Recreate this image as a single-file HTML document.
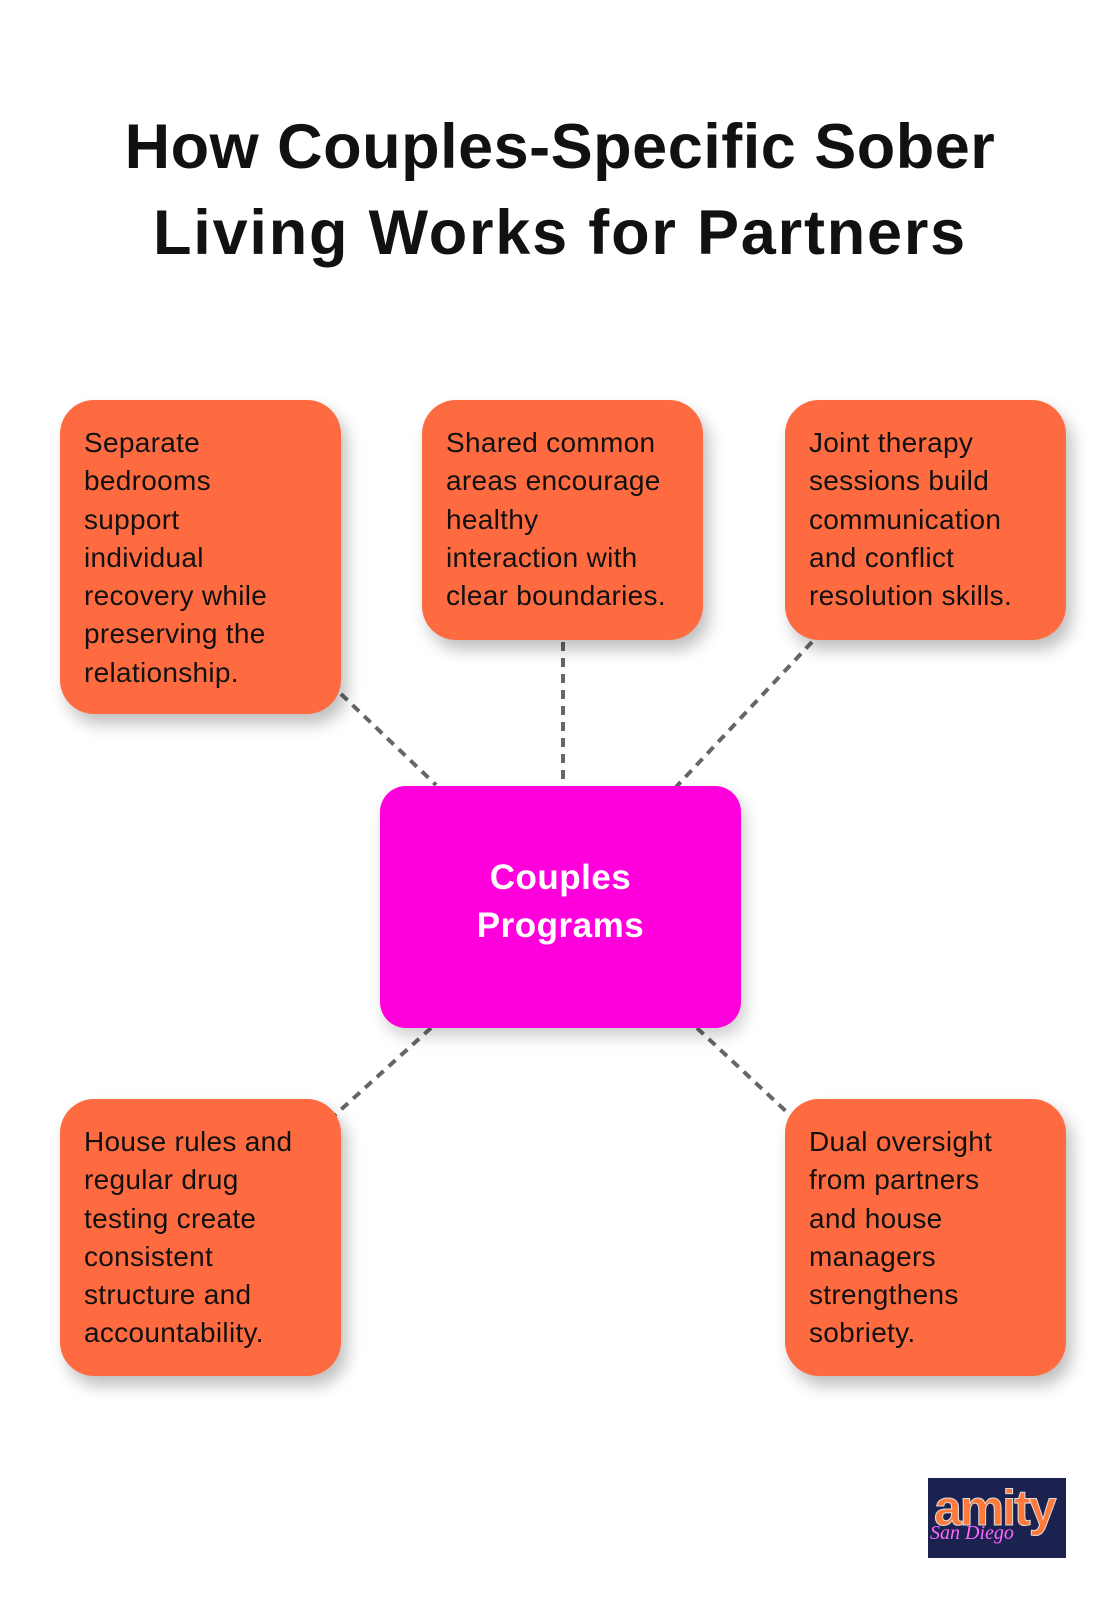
<!DOCTYPE html>
<html><head><meta charset="utf-8"><style>
body{margin:0;width:1120px;height:1608px;background:#fff;position:relative;overflow:hidden;font-family:"Liberation Sans","DejaVu Sans",sans-serif;}
.t{position:absolute;left:0;width:1120px;text-align:center;font-weight:bold;font-size:63px;line-height:86px;top:104px;color:#111;letter-spacing:0.5px}
.b{position:absolute;background:#FF6B40;border-radius:34px;box-shadow:6px 10px 16px rgba(0,0,0,0.25);box-sizing:border-box;padding:24px 0 0 24px;font-size:28px;line-height:38.3px;color:#111;letter-spacing:0.3px}
.c{position:absolute;left:380px;top:786px;width:361px;height:242px;background:#FF00DD;border-radius:26px;box-shadow:4px 8px 16px rgba(0,0,0,0.2);color:#fff;font-weight:bold;font-size:35px;line-height:48px;text-align:center;box-sizing:border-box;padding-top:68px;letter-spacing:0.5px}
svg{position:absolute;left:0;top:0}
</style></head><body>
<div class="t">How Couples-Specific Sober<br><span style="letter-spacing:1.8px">Living Works for Partners</span></div>
<svg width="1120" height="1608"><g stroke="#666" stroke-width="4" stroke-dasharray="9,7" fill="none">
<line x1="341" y1="694" x2="436" y2="785"/>
<line x1="563" y1="642" x2="563" y2="780"/>
<line x1="812" y1="642" x2="676" y2="787"/>
<line x1="431" y1="1028" x2="335" y2="1115"/>
<line x1="697" y1="1028" x2="790" y2="1115"/>
</g></svg>
<div class="b" style="left:60px;top:400px;width:281px;height:314px">Separate<br>bedrooms<br>support<br>individual<br>recovery while<br>preserving the<br>relationship.</div>
<div class="b" style="left:422px;top:400px;width:281px;height:240px">Shared common<br>areas encourage<br>healthy<br>interaction with<br>clear boundaries.</div>
<div class="b" style="left:785px;top:400px;width:281px;height:240px">Joint therapy<br>sessions build<br>communication<br>and conflict<br>resolution skills.</div>
<div class="c">Couples<br>Programs</div>
<div class="b" style="left:60px;top:1099px;width:281px;height:277px">House rules and<br>regular drug<br>testing create<br>consistent<br>structure and<br>accountability.</div>
<div class="b" style="left:785px;top:1099px;width:281px;height:277px">Dual oversight<br>from partners<br>and house<br>managers<br>strengthens<br>sobriety.</div>
<div style="position:absolute;left:928px;top:1478px;width:138px;height:80px;background:#1c2250;overflow:hidden">
<div style="position:absolute;left:6px;top:2px;font-size:50px;font-weight:bold;color:#ff7a3a;letter-spacing:-2px;line-height:56px;-webkit-text-stroke:1px #ddd">amity</div>
<div style="position:absolute;left:2px;top:44px;font-size:20px;font-style:italic;color:#ff66ff;font-family:'Liberation Serif',serif">San Diego</div>
</div>
</body></html>
